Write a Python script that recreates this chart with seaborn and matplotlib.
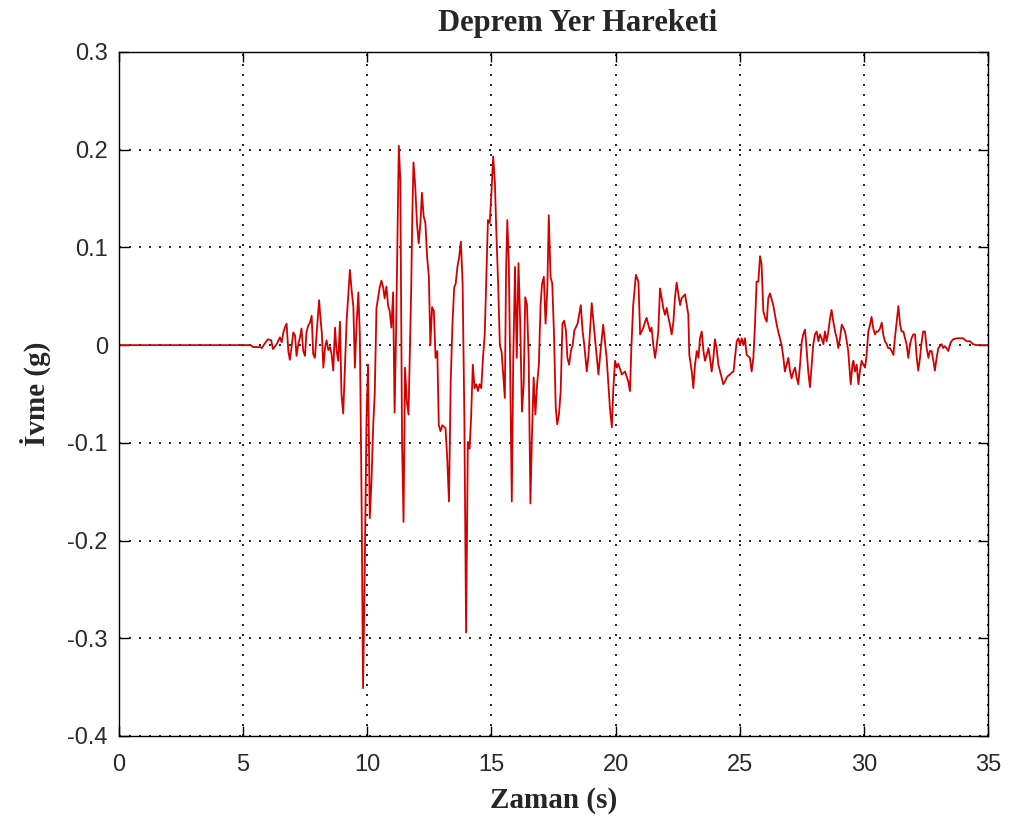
import matplotlib
matplotlib.use("Agg")
import matplotlib.pyplot as plt
import seaborn as sns
import pandas as pd

# ---- data (time in s, acceleration in g) ----
time_s = [
    0.0, 5.3, 5.4, 5.7, 5.75, 5.88, 6.0, 6.13, 6.2, 6.35, 6.48, 6.55, 6.62, 6.68, 6.75,
    6.82, 6.88, 6.95, 7.02, 7.09, 7.15, 7.22, 7.29, 7.35, 7.42, 7.49, 7.55, 7.62, 7.69,
    7.76, 7.82, 7.89, 7.96, 8.06, 8.11, 8.17, 8.23, 8.3, 8.36, 8.43, 8.5, 8.56, 8.63,
    8.7, 8.76, 8.83, 8.9, 8.96, 9.03, 9.1, 9.17, 9.24, 9.3, 9.37, 9.44, 9.5, 9.57, 9.64,
    9.7, 9.77, 9.83, 9.9, 9.97, 10.03, 10.1, 10.17, 10.24, 10.3, 10.37, 10.5, 10.57,
    10.64, 10.7, 10.77, 10.84, 10.9, 10.97, 11.04, 11.1, 11.16, 11.2, 11.27, 11.33, 11.4,
    11.46, 11.52, 11.59, 11.66, 11.77, 11.81, 11.86, 11.93, 12.0, 12.07, 12.14, 12.2,
    12.27, 12.34, 12.41, 12.48, 12.54, 12.61, 12.68, 12.75, 12.82, 12.88, 12.95, 13.02,
    13.15, 13.22, 13.29, 13.36, 13.43, 13.5, 13.56, 13.63, 13.7, 13.77, 13.84, 13.91,
    13.98, 14.05, 14.12, 14.18, 14.25, 14.32, 14.39, 14.46, 14.52, 14.59, 14.66, 14.73,
    14.8, 14.86, 14.93, 15.0, 15.07, 15.14, 15.2, 15.27, 15.34, 15.41, 15.48, 15.54,
    15.59, 15.64, 15.7, 15.75, 15.82, 15.88, 15.95, 16.02, 16.09, 16.16, 16.23, 16.3,
    16.36, 16.43, 16.5, 16.57, 16.63, 16.7, 16.77, 16.84, 16.91, 16.98, 17.04, 17.11,
    17.18, 17.25, 17.31, 17.38, 17.45, 17.52, 17.59, 17.65, 17.72, 17.79, 17.86, 17.93,
    18.0, 18.06, 18.13, 18.2, 18.27, 18.34, 18.47, 18.6, 18.67, 18.74, 18.84, 18.91,
    19.04, 19.17, 19.31, 19.38, 19.5, 19.64, 19.71, 19.78, 19.85, 19.91, 19.98, 20.05,
    20.11, 20.25, 20.38, 20.51, 20.58, 20.64, 20.71, 20.82, 20.92, 20.99, 21.05, 21.12,
    21.19, 21.25, 21.32, 21.39, 21.45, 21.52, 21.59, 21.66, 21.72, 21.79, 21.86, 21.92,
    21.99, 22.06, 22.13, 22.19, 22.26, 22.33, 22.39, 22.46, 22.53, 22.6, 22.66, 22.8,
    22.87, 22.93, 22.97, 23.07, 23.13, 23.2, 23.27, 23.34, 23.4, 23.47, 23.54, 23.6,
    23.67, 23.74, 23.8, 23.87, 23.94, 24.0, 24.07, 24.14, 24.21, 24.27, 24.34, 24.41,
    24.48, 24.55, 24.61, 24.68, 24.75, 24.81, 24.88, 24.95, 25.01, 25.08, 25.15, 25.21,
    25.28, 25.41, 25.48, 25.55, 25.61, 25.68, 25.75, 25.82, 25.88, 25.95, 26.02, 26.09,
    26.15, 26.22, 26.35, 26.42, 26.49, 26.55, 26.62, 26.69, 26.76, 26.82, 26.89, 26.96,
    27.03, 27.09, 27.16, 27.23, 27.29, 27.36, 27.43, 27.5, 27.56, 27.63, 27.7, 27.76,
    27.83, 27.9, 27.96, 28.03, 28.1, 28.17, 28.23, 28.3, 28.37, 28.43, 28.5, 28.57,
    28.64, 28.7, 28.77, 28.84, 28.91, 28.97, 29.04, 29.11, 29.17, 29.24, 29.31, 29.37,
    29.44, 29.47, 29.54, 29.58, 29.64, 29.71, 29.78, 29.84, 29.91, 29.98, 30.05, 30.11,
    30.18, 30.25, 30.31, 30.38, 30.45, 30.51, 30.58, 30.65, 30.72, 30.78, 30.85, 30.92,
    30.98, 31.05, 31.12, 31.19, 31.25, 31.32, 31.39, 31.46, 31.52, 31.59, 31.66, 31.72,
    31.79, 31.86, 31.92, 31.99, 32.06, 32.13, 32.19, 32.26, 32.33, 32.39, 32.46, 32.53,
    32.6, 32.66, 32.73, 32.8, 32.86, 32.93, 33.0, 33.06, 33.13, 33.2, 33.26, 33.33,
    33.4, 33.47, 33.53, 33.6, 33.74, 33.87, 34.0, 34.14, 34.27, 34.4, 34.54, 35.0,
]
accel_g = [
    0.0, 0.0, -0.002, -0.002, -0.003, 0.002, 0.006, 0.005, -0.004, 0.001, 0.008, 0.003, 0.013, 0.018, 0.022,
    -0.006, -0.015, -0.002, 0.013, 0.01, -0.011, 0.001, 0.008, 0.017, -0.006, -0.011, 0.013, 0.02, 0.023,
    0.03, -0.009, -0.013, 0.012, 0.046, 0.029, 0.012, -0.023, -0.002, 0.005, -0.005, -0.002, -0.009, -0.026,
    0.018, -0.005, -0.016, 0.024, -0.05, -0.07, -0.022, 0.026, 0.053, 0.077, 0.056, 0.039, -0.023, 0.022, 0.054,
    0.011, -0.158, -0.351, -0.225, -0.074, -0.02, -0.177, -0.139, -0.081, -0.05, 0.038, 0.059, 0.066,
    0.059, 0.048, 0.06, 0.04, 0.035, 0.018, 0.054, -0.069, 0.014, 0.083, 0.204, 0.169, -0.099,
    -0.181, -0.023, -0.057, -0.071, 0.059, 0.128, 0.187, 0.163, 0.125, 0.104, 0.125, 0.156,
    0.132, 0.125, 0.09, 0.07, 0.0, 0.039, 0.035, -0.013, -0.006, -0.082, -0.088, -0.082,
    -0.085, -0.116, -0.16, -0.037, 0.022, 0.059, 0.063, 0.08, 0.09, 0.106, 0.063, -0.075,
    -0.294, -0.099, -0.106, -0.075, -0.02, -0.044, -0.04, -0.047, -0.04, -0.044, -0.013, 0.011,
    0.073, 0.128, 0.125, 0.156, 0.193, 0.166, 0.114, 0.063, 0.0, -0.007, -0.033, -0.054,
    0.077, 0.128, 0.084, -0.013, -0.16, -0.013, 0.08, -0.013, 0.084, 0.022, -0.068, -0.04,
    0.049, 0.042, -0.013, -0.162, -0.095, -0.033, -0.071, -0.04, -0.02, 0.042, 0.063, 0.07,
    0.022, 0.056, 0.133, 0.07, 0.063, 0.011, -0.064, -0.081, -0.071, -0.047, 0.022, 0.025,
    0.015, -0.013, -0.02, -0.006, 0.0, 0.015, 0.022, 0.041, 0.015, 0.0, -0.027, -0.01,
    0.043, 0.007, -0.03, -0.01, 0.021, -0.013, -0.04, -0.067, -0.084, -0.044, -0.016, -0.023,
    -0.019, -0.03, -0.027, -0.037, -0.047, 0.0, 0.041, 0.072, 0.065, 0.011, 0.014, 0.018,
    0.024, 0.028, 0.021, 0.014, 0.018, 0.0, -0.013, 0.0, 0.014, 0.058, 0.048, 0.038,
    0.031, 0.038, 0.028, 0.021, 0.011, 0.024, 0.048, 0.064, 0.052, 0.041, 0.048, 0.052,
    0.041, 0.031, -0.01, -0.027, -0.044, -0.02, -0.006, -0.013, 0.007, 0.014, -0.006, -0.016,
    -0.01, -0.003, -0.013, -0.027, -0.013, 0.006, -0.003, -0.02, -0.027, -0.033, -0.04, -0.037,
    -0.033, -0.031, -0.03, -0.028, -0.027, -0.013, 0.004, 0.007, 0.0, 0.007, 0.0, 0.007,
    -0.01, -0.013, -0.027, -0.013, 0.018, 0.065, 0.065, 0.091, 0.083, 0.035, 0.028, 0.024,
    0.048, 0.053, 0.041, 0.031, 0.021, 0.014, 0.007, 0.0, -0.013, -0.027, -0.02, -0.013,
    -0.027, -0.034, -0.027, -0.023, -0.033, -0.04, -0.02, 0.004, 0.011, 0.016, -0.006, -0.027,
    -0.043, -0.02, 0.0, 0.011, 0.014, 0.004, 0.011, 0.007, 0.001, 0.014, 0.004, 0.014,
    0.028, 0.036, 0.024, 0.014, 0.007, -0.003, 0.007, 0.021, 0.018, 0.014, 0.004, -0.006,
    -0.03, -0.04, -0.02, -0.016, -0.027, -0.02, -0.04, -0.027, -0.016, -0.02, -0.023, -0.01,
    0.014, 0.021, 0.029, 0.017, 0.011, 0.014, 0.014, 0.017, 0.023, 0.011, 0.004, 0.001,
    -0.003, -0.003, -0.006, -0.01, 0.007, 0.024, 0.04, 0.021, 0.014, 0.014, 0.007, 0.001,
    -0.013, 0.001, 0.007, 0.011, 0.011, -0.013, -0.026, -0.013, 0.004, 0.014, 0.014, -0.003,
    -0.013, -0.006, -0.006, -0.016, -0.026, -0.013, -0.003, -0.001, 0.001, -0.003, -0.001, -0.003,
    -0.006, 0.001, 0.004, 0.006, 0.007, 0.007, 0.007, 0.004, 0.004, 0.001, 0.0, 0.0,
]

x_ticks = [0, 5, 10, 15, 20, 25, 30, 35]
x_tick_labels = ["0", "5", "10", "15", "20", "25", "30", "35"]
y_ticks = [-0.4, -0.3, -0.2, -0.1, 0.0, 0.1, 0.2, 0.3]
y_tick_labels = ["-0.4", "-0.3", "-0.2", "-0.1", "0", "0.1", "0.2", "0.3"]

title_text = "Deprem Yer Hareketi"
x_label = "Zaman (s)"
y_label = "İvme (g)"

df = pd.DataFrame({"t": time_s, "a": accel_g})

sns.set_style("ticks")
plt.rcParams["font.family"] = ["Liberation Sans", "DejaVu Sans"]

fig = plt.figure(figsize=(10.10, 8.23), dpi=100)
ax = fig.add_axes([119 / 1010, (823 - 736) / 823, (988 - 119) / 1010, (736 - 52) / 823])

sns.lineplot(data=df, x="t", y="a", ax=ax, color="#d40000", linewidth=1.3,
             estimator=None, sort=False)

ax.set_xlim(0, 35)
ax.set_ylim(-0.4, 0.3)
ax.set_xticks(x_ticks)
ax.set_xticklabels(x_tick_labels)
ax.set_yticks(y_ticks)
ax.set_yticklabels(y_tick_labels)

ax.grid(True, color="black", linestyle=(0, (1.2, 4.8)), linewidth=1.2)
ax.tick_params(direction="in", length=7, width=1, top=True, right=True,
               labelsize=17, colors="black")
ax.tick_params(axis="x", pad=13)
ax.tick_params(axis="y", pad=8)
for lbl in ax.get_xticklabels() + ax.get_yticklabels():
    lbl.set_color("#2a2a2a")
for sp in ax.spines.values():
    sp.set_visible(True)
    sp.set_color("black")
    sp.set_linewidth(1.0)

serif = ["Liberation Serif", "DejaVu Serif"]
ax.set_xlabel(x_label, fontsize=21, fontweight="bold", family=serif, labelpad=8)
ax.set_ylabel(y_label, fontsize=21, fontweight="bold", family=serif, labelpad=12)
fig.text(578 / 1010, 1 - 23 / 823, title_text, ha="center", va="center",
         fontsize=22, fontweight="bold", family=serif)

fig.savefig("out.png", dpi=100, facecolor="white")
